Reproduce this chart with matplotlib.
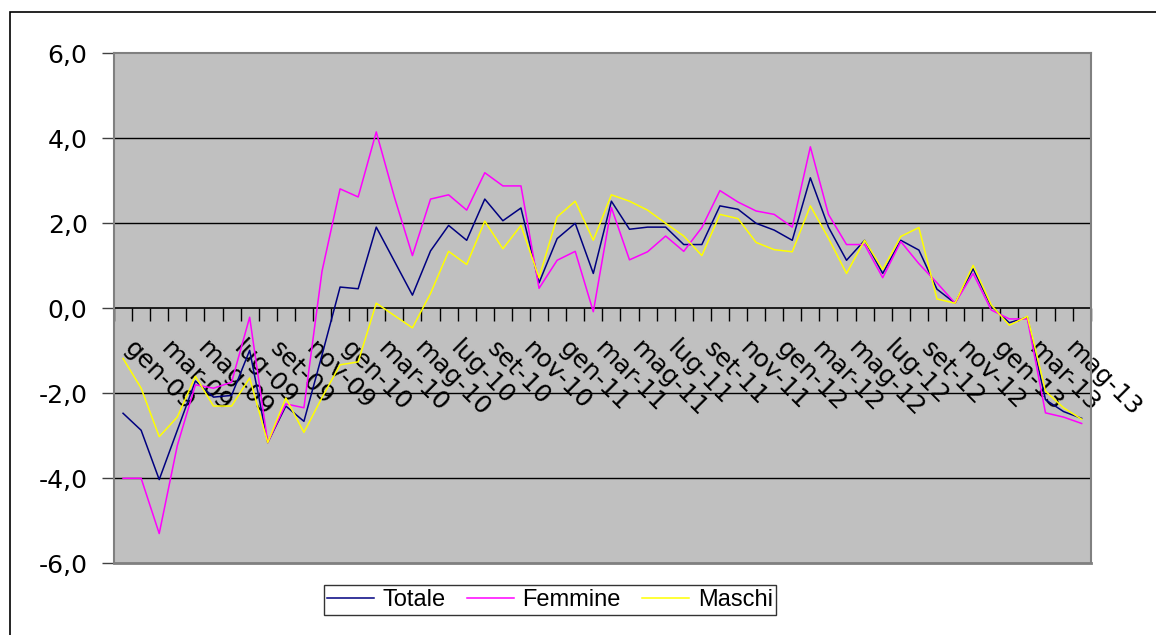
import numpy as np
import matplotlib
matplotlib.use("Agg")
import matplotlib.pyplot as plt
import matplotlib.transforms as mtransforms
from matplotlib.patches import Rectangle

# mesi da gen-09 a giu-13
mesi_nomi = ['gen', 'feb', 'mar', 'apr', 'mag', 'giu', 'lug', 'ago', 'set', 'ott', 'nov', 'dic']
anni = ['09', '10', '11', '12', '13']
mesi = [m + '-' + a for a in anni for m in mesi_nomi][:54]

totale = [-2.47, -2.87, -4.03, -2.87, -1.71, -2.09, -2.05, -0.99, -3.16, -2.30,
          -2.66, -1.10, 0.50, 0.46, 1.91, 1.11, 0.31, 1.35, 1.95, 1.60,
          2.57, 2.06, 2.36, 0.60, 1.64, 2.00, 0.82, 2.52, 1.86, 1.91,
          1.91, 1.50, 1.50, 2.41, 2.33, 2.00, 1.84, 1.60, 3.07, 1.91,
          1.13, 1.60, 0.82, 1.60, 1.37, 0.45, 0.12, 0.93, 0.05, -0.34,
          -0.21, -2.15, -2.43, -2.59]

femmine = [-4.00, -4.00, -5.30, -3.23, -1.80, -1.88, -1.74, -0.21, -3.16, -2.25,
           -2.34, 0.87, 2.81, 2.62, 4.15, 2.62, 1.24, 2.57, 2.67, 2.31,
           3.19, 2.88, 2.88, 0.47, 1.13, 1.34, -0.08, 2.37, 1.14, 1.33,
           1.70, 1.34, 1.90, 2.77, 2.50, 2.29, 2.21, 1.91, 3.80, 2.21,
           1.50, 1.50, 0.72, 1.57, 1.05, 0.60, 0.12, 0.82, -0.04, -0.25,
           -0.25, -2.46, -2.56, -2.71]

maschi = [-1.18, -1.88, -3.02, -2.56, -1.60, -2.30, -2.30, -1.64, -3.16, -2.11,
          -2.92, -2.10, -1.33, -1.26, 0.12, -0.17, -0.46, 0.35, 1.34, 1.03,
          2.05, 1.40, 1.95, 0.72, 2.15, 2.52, 1.60, 2.67, 2.52, 2.31,
          2.00, 1.70, 1.24, 2.21, 2.11, 1.55, 1.38, 1.33, 2.41, 1.65,
          0.82, 1.60, 0.91, 1.69, 1.90, 0.22, 0.12, 1.01, 0.08, -0.40,
          -0.19, -1.95, -2.34, -2.61]

y_ticks = [-6, -4, -2, 0, 2, 4, 6]
y_labels = ['-6,0', '-4,0', '-2,0', '0,0', '2,0', '4,0', '6,0']

x = np.arange(len(mesi))

fig = plt.figure(figsize=(11.56, 6.35), dpi=100)
# cornice esterna del grafico
fig.patches.append(Rectangle((10 / 1156, -0.1), 1.2, 1 - 12 / 635 + 0.1,
                             transform=fig.transFigure, fill=False,
                             edgecolor='black', linewidth=1.2))

ax = fig.add_axes([114 / 1156, 1 - 563.3 / 635, (1090.7 - 114) / 1156, 510 / 635])
ax.set_facecolor('#C0C0C0')

ax.plot(x, totale, color='#000080', lw=1.1, label='Totale', zorder=3)
ax.plot(x, femmine, color='#FF00FF', lw=1.1, label='Femmine', zorder=3)
ax.plot(x, maschi, color='#FFFF00', lw=1.1, label='Maschi', zorder=3)

ax.set_xlim(-0.5, len(mesi) - 0.5)
ax.set_ylim(-6, 6)

# griglia orizzontale
for v in [-4, -2, 2, 4]:
    ax.axhline(v, color='black', lw=1, zorder=1)
ax.axhline(-6, color='#808080', lw=2, zorder=4, clip_on=False)

for s in ['top', 'left', 'right']:
    ax.spines[s].set_color('#808080')
    ax.spines[s].set_linewidth(1.5)
ax.spines['bottom'].set_position(('data', 0))
ax.spines['bottom'].set_color('black')
ax.spines['bottom'].set_linewidth(1.2)
ax.spines['bottom'].set_zorder(2)

ax.set_yticks(y_ticks)
ax.set_yticklabels(y_labels, fontsize=18, family='DejaVu Sans')
ax.tick_params(axis='y', length=9, width=1, color='#404040', pad=10)

# tick tra le categorie, etichette ogni due mesi
ax.set_xticks(np.arange(-0.5, len(mesi), 1))
ax.set_xticklabels([])
ax.tick_params(axis='x', which='major', length=9, width=1, color='black', direction='out')
ax.set_xticks(x[::2], minor=True)
ax.set_xticklabels(mesi[::2], minor=True, rotation=-45, ha='left', va='top',
                   rotation_mode='anchor', fontsize=18, family='DejaVu Sans')
ax.tick_params(axis='x', which='minor', length=0, pad=20)
sposta = mtransforms.ScaledTranslation(14 / 100, 0, fig.dpi_scale_trans)
for lab in ax.get_xticklabels(minor=True):
    lab.set_transform(lab.get_transform() + sposta)

leg = fig.legend(loc='center', bbox_to_anchor=(550 / 1156, 1 - 600 / 635), ncol=3,
                 frameon=True, fancybox=False, prop={'family': 'Liberation Sans', 'size': 17},
                 handlelength=2.0, columnspacing=0.9, handletextpad=0.35,
                 borderpad=0.15, borderaxespad=0.3)
leg.get_frame().set_edgecolor('black')
leg.get_frame().set_linewidth(1)

fig.savefig('out.png', dpi=100)
